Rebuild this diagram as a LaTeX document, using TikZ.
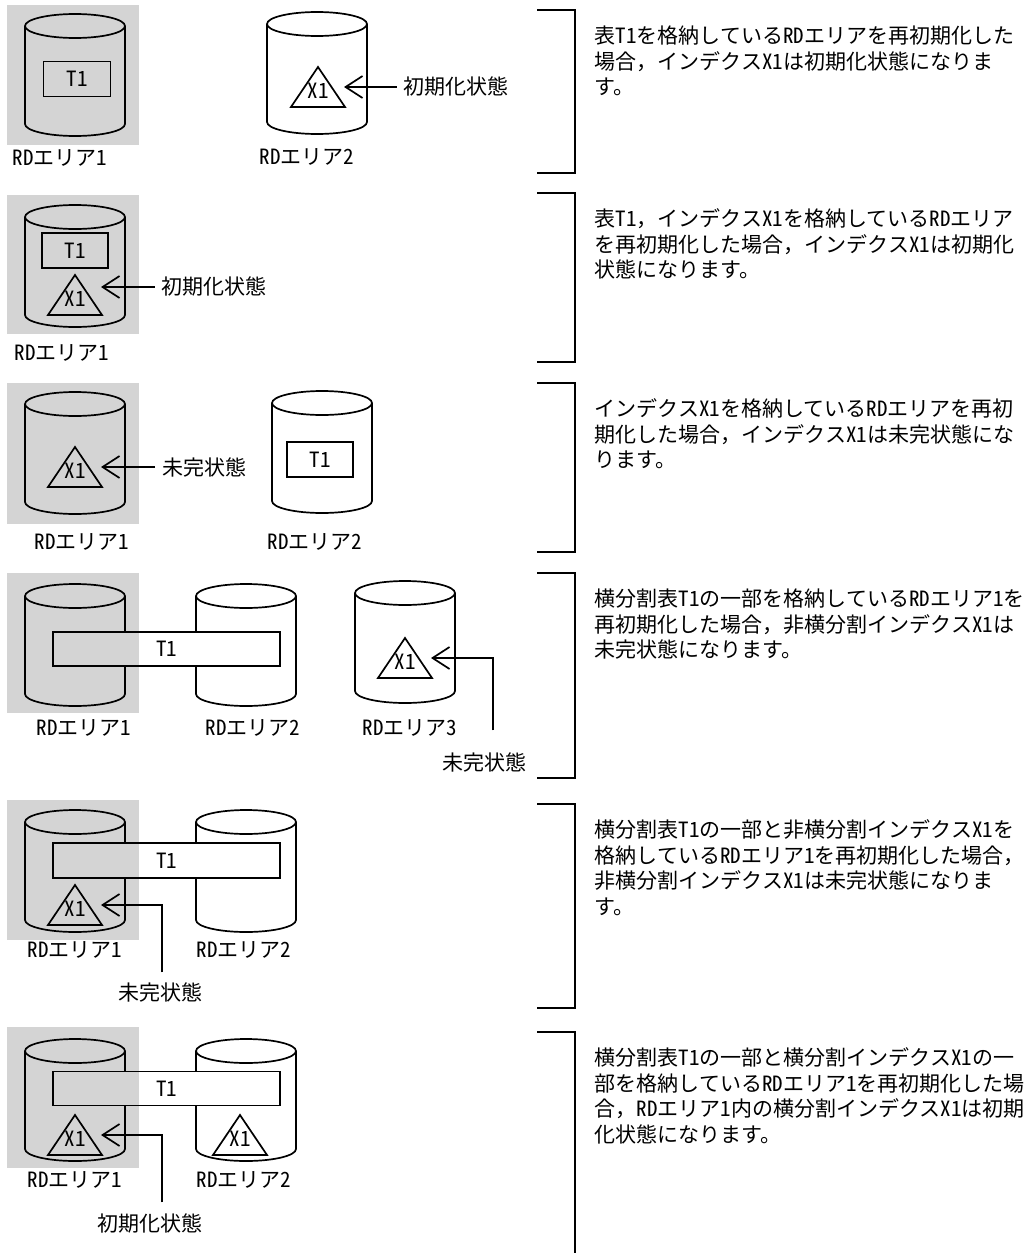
\documentclass[tikz,border=0pt]{standalone}
\usepackage{fontspec}
\setmainfont{Noto Sans CJK JP}
\newfontface\hw{Noto Sans CJK JP}[RawFeature=+hwid]
\usepackage{xcolor}
\usepackage{tikz}
\usetikzlibrary{arrows.meta,positioning,calc}
\definecolor{areagray}{gray}{0.83}

\begin{document}
\begin{tikzpicture}[
    x=1pt, y=-1pt, line width=1.7pt,
    tbl/.style={rectangle, draw, minimum height=35pt, inner sep=0, font=\fontsize{21}{25.5}\selectfont\hw},
    lbl/.style={inner sep=0, font=\fontsize{21}{25.5}\selectfont},
    note/.style={inner sep=6pt, font=\fontsize{21}{25.5}\selectfont},
    para/.style={anchor=north west, align=left, inner sep=0, font=\fontsize{21}{25.5}\selectfont},
    arrow/.style={-{Straight Barb[length=17pt,width=22pt]}},
    rdcyl/.pic={
        \draw (0,-49) ellipse [x radius=50, y radius=12];
        \draw (-50,-49) -- (-50,49) arc [start angle=180, end angle=0, x radius=50, y radius=12] -- (50,-49);
    },
    idxtri/.pic={
        \draw (0,-23) -- (-27,17) -- (27,17) -- cycle;
        \node[lbl] (-t) at (0,1) {\hw X1};
        \coordinate (-tip) at (26,-3);
    }
]
\useasboundingbox (0,0) rectangle (1032,1253);

\foreach \t/\b in {10/173, 193/362, 383/552, 573/778, 804/1008} {
    \draw (537,\t) -- (575,\t) -- (575,\b) -- (537,\b);
}
\draw (537,1032) -- (575,1032) -- (575,1253);

% 1
\fill[areagray] (7,5) rectangle (139,145);
\pic at (75,75) {rdcyl};
\node[tbl, minimum width=67pt] (t1a) at (77,79) {T1};
\node[lbl] (rd1a) at (60,158) {{\hw RD}エリア{\hw 1}};
\pic at (317,73) {rdcyl};
\pic (x1a) at (318,90) {idxtri};
\node[note] (st1) at (456,87) {初期化状態};
\draw[arrow] (st1.west) -- (x1a-tip);
\node[lbl] (rd2a) at (307,157) {{\hw RD}エリア{\hw 2}};
\node[para] (d1) at (594,25) {表{\hw T1}を格納している{\hw RD}エリアを再初期化した\\場合，インデクス{\hw X1}は初期化状態になりま\\す。};

% 2
\fill[areagray] (7,195) rectangle (139,334);
\pic at (75,266) {rdcyl};
\node[tbl, minimum width=66pt] (t1b) at (75,250.5) {T1};
\pic (x1b) at (75,298) {idxtri};
\node[note] (st2) at (214,287) {初期化状態};
\draw[arrow] (st2.west) -- ([yshift=8pt]x1b-tip);
\node[lbl] (rd1b) at (62,353) {{\hw RD}エリア{\hw 1}};
\node[para] (d2) at (594,208) {表{\hw T1}，インデクス{\hw X1}を格納している{\hw RD}エリア\\を再初期化した場合，インデクス{\hw X1}は初期化\\状態になります。};

% 3
\fill[areagray] (7,383) rectangle (139,524);
\pic at (75,453) {rdcyl};
\pic (x1c) at (75,470) {idxtri};
\node[note] (st3) at (204,467) {未完状態};
\draw[arrow] (st3.west) -- (x1c-tip);
\pic at (322,452) {rdcyl};
\node[tbl, minimum width=66pt] (t1c) at (320,459.5) {T1};
\node[lbl] (rd1c) at (82,542) {{\hw RD}エリア{\hw 1}};
\node[lbl] (rd2c) at (315,542) {{\hw RD}エリア{\hw 2}};
\node[para] (d3) at (594,398) {インデクス{\hw X1}を格納している{\hw RD}エリアを再初\\期化した場合，インデクス{\hw X1}は未完状態にな\\ります。};

% 4
\fill[areagray] (7,573) rectangle (139,713);
\pic at (75,645) {rdcyl};
\pic at (246,645) {rdcyl};
\pic at (405,642) {rdcyl};
\fill[white] (53,632) rectangle (280,666);
\fill[areagray] (53,632) rectangle (139,666);
\node[tbl, minimum width=227pt, minimum height=34pt] (t1d) at (166.5,649) {T1};
\pic (x1d) at (405,661) {idxtri};
\node[note] (st4) at (484,762) {未完状態};
\draw[arrow] ([xshift=9pt,yshift=15pt]st4.north) |- (x1d-tip);
\node[lbl] (rd1d) at (84,728) {{\hw RD}エリア{\hw 1}};
\node[lbl] (rd2d) at (253,728) {{\hw RD}エリア{\hw 2}};
\node[lbl] (rd3d) at (410,728) {{\hw RD}エリア{\hw 3}};
\node[para] (d4) at (594,588) {横分割表{\hw T1}の一部を格納している{\hw RD}エリア{\hw 1}を\\再初期化した場合，非横分割インデクス{\hw X1}は\\未完状態になります。};

% 5
\fill[areagray] (7,800) rectangle (139,940);
\pic at (75,871) {rdcyl};
\pic at (246,871) {rdcyl};
\fill[white] (53,843) rectangle (280,878);
\fill[areagray] (53,843) rectangle (139,878);
\node[tbl, minimum width=227pt] (t1e) at (166.5,860.5) {T1};
\pic (x1e) at (75,908) {idxtri};
\node[note] (st5) at (160,992) {未完状態};
\draw[arrow] ([xshift=2pt,yshift=3pt]st5.north) |- (x1e-tip);
\node[lbl] (rd1e) at (75,950) {{\hw RD}エリア{\hw 1}};
\node[lbl] (rd2e) at (244,950) {{\hw RD}エリア{\hw 2}};
\node[para] (d5) at (594,819) {横分割表{\hw T1}の一部と非横分割インデクス{\hw X1}を\\格納している{\hw RD}エリア{\hw 1}を再初期化した場合，\\非横分割インデクス{\hw X1}は未完状態になりま\\す。};

% 6
\fill[areagray] (7,1027) rectangle (139,1168);
\pic at (75,1100) {rdcyl};
\pic at (246,1100) {rdcyl};
\fill[white] (53,1071.5) rectangle (280,1105.5);
\fill[areagray] (53,1071.5) rectangle (139,1105.5);
\node[tbl, minimum width=227pt, minimum height=34pt] (t1f) at (166.5,1088.5) {T1};
\pic (x1f) at (75,1138) {idxtri};
\pic (x1g) at (240,1138) {idxtri};
\node[note] (st6) at (150,1223) {初期化状態};
\draw[arrow] ([xshift=12pt,yshift=4pt]st6.north) |- (x1f-tip);
\node[lbl] (rd1f) at (75,1180) {{\hw RD}エリア{\hw 1}};
\node[lbl] (rd2f) at (244,1180) {{\hw RD}エリア{\hw 2}};
\node[para] (d6) at (594,1047) {横分割表{\hw T1}の一部と横分割インデクス{\hw X1}の一\\部を格納している{\hw RD}エリア{\hw 1}を再初期化した場\\合，{\hw RD}エリア{\hw 1}内の横分割インデクス{\hw X1}は初期\\化状態になります。};
\end{tikzpicture}
\end{document}
